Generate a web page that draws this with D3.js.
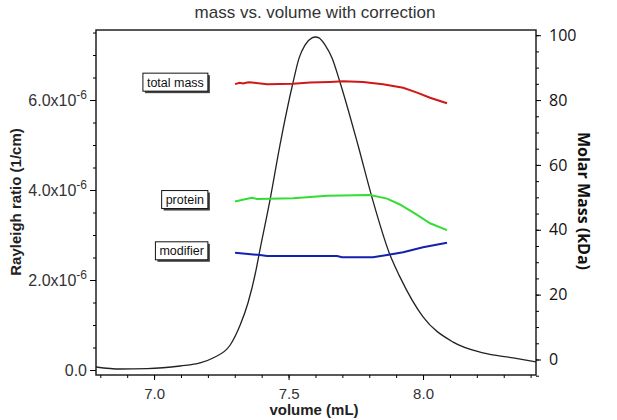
<!DOCTYPE html>
<html>
<head>
<meta charset="utf-8">
<script src="https://cdn.jsdelivr.net/npm/d3@7"></script>
<style>
  body { margin: 0; background: #fff; }
</style>
</head>
<body>
<div id="graph1"></div>
<script>
// rayleigh ratio trace (units of 1e-6 1/cm)
const lsVolume = [6.784, 6.874, 6.974, 7.097, 7.171, 7.219, 7.283, 7.320, 7.349, 7.379, 7.390, 7.431, 7.468, 7.517, 7.539, 7.561, 7.587, 7.600, 7.613, 7.636, 7.662, 7.691, 7.758, 7.810, 7.877, 7.914, 8.000, 8.112, 8.223, 8.335, 8.420]
const lsRatio = [0.067, 0.022, 0.03, 0.089, 0.156, 0.267, 0.556, 1.0, 1.49, 2.22, 2.56, 3.78, 5.0, 6.4, 6.93, 7.22, 7.38, 7.40, 7.38, 7.22, 6.93, 6.4, 5.0, 3.84, 2.56, 2.07, 1.18, 0.62, 0.38, 0.27, 0.18]

// molar mass traces (kDa)
const totalVolume = [7.301, 7.318, 7.331, 7.350, 7.364, 7.420, 7.517, 7.580, 7.654, 7.703, 7.777, 7.851, 7.926, 7.978, 8.026, 8.089]
const totalMass = [84.9, 85.3, 85.1, 85.5, 85.4, 84.9, 85.0, 85.4, 85.6, 85.8, 85.6, 84.9, 83.8, 82.3, 80.7, 79.0]

const proteinVolume = [7.301, 7.338, 7.364, 7.383, 7.517, 7.643, 7.803, 7.866, 7.914, 7.978, 8.026, 8.089]
const proteinMass = [48.7, 49.4, 49.9, 49.5, 49.7, 50.5, 50.7, 49.6, 47.8, 44.6, 42.0, 39.9]

const modifierVolume = [7.301, 7.394, 7.420, 7.680, 7.699, 7.814, 7.866, 7.926, 8.000, 8.089]
const modifierMass = [32.9, 32.2, 31.9, 31.9, 31.5, 31.5, 32.2, 33.1, 34.6, 36.0]

const seriesNames = ['total mass', 'protein', 'modifier']
const seriesColors = ['#d01818', '#33dd33', '#1420b0']

// ticks
const xMajorTicks = [7.0, 7.5, 8.0]
const leftMajorTicks = [0, 2, 4, 6]
const rightMajorTicks = [0, 20, 40, 60, 80, 100]

const drawChart = () => {
  const width = 617
  const height = 420
  const plot = { left: 96, top: 30, right: 536, bottom: 375 }

  const svg = d3
    .select('#graph1')
    .append('svg')
    .attr('width', width)
    .attr('height', height)

  const xScale = d3.scaleLinear().domain([6.784, 8.42]).range([plot.left, plot.right])
  const yLeft = d3.scaleLinear().domain([-0.111, 7.556]).range([plot.bottom, plot.top])
  const yRight = d3.scaleLinear().domain([-4.78, 101.6]).range([plot.bottom, plot.top])

  const sans = "'Liberation Sans', Arial, sans-serif"
  const tickColor = '#333'

  // frame
  svg
    .append('rect')
    .attr('x', plot.left)
    .attr('y', plot.top)
    .attr('width', plot.right - plot.left)
    .attr('height', plot.bottom - plot.top)
    .attr('fill', 'none')
    .attr('stroke', '#222')
    .attr('stroke-width', 1.5)

  // bottom axis
  const xMinor = d3.range(68, 85).map((d) => d / 10)
  svg
    .append('g')
    .attr('transform', `translate(0, ${plot.bottom})`)
    .call(d3.axisBottom(xScale).tickValues(xMinor).tickSize(3).tickFormat(''))
    .call((g) => g.select('.domain').remove())
  const xAxisGroup = svg
    .append('g')
    .attr('transform', `translate(0, ${plot.bottom})`)
    .call(d3.axisBottom(xScale).tickValues(xMajorTicks).tickSize(5).tickPadding(8).tickFormat(d3.format('.1f')))
  xAxisGroup.select('.domain').remove()
  xAxisGroup.selectAll('text').attr('font-family', sans).attr('font-size', 15).attr('fill', tickColor)

  // left axis
  const leftMinor = d3.range(0, 16).map((d) => d / 2)
  svg
    .append('g')
    .attr('transform', `translate(${plot.left}, 0)`)
    .call(d3.axisLeft(yLeft).tickValues(leftMinor).tickSize(3).tickFormat(''))
    .call((g) => g.select('.domain').remove())
  const leftAxisGroup = svg
    .append('g')
    .attr('transform', `translate(${plot.left}, 0)`)
    .call(d3.axisLeft(yLeft).tickValues(leftMajorTicks).tickSize(6).tickPadding(3).tickFormat(''))
  leftAxisGroup.select('.domain').remove()
  leftAxisGroup
    .selectAll('.tick text')
    .attr('font-family', sans)
    .attr('font-size', 16)
    .attr('fill', tickColor)
    .each(function (d) {
      const label = d3.select(this)
      if (d === 0) {
        label.text('0.0')
        return
      }
      label.append('tspan').text(`${d.toFixed(1)}x10`)
      label.append('tspan').attr('dy', -7).attr('font-size', 12).text('-6')
    })

  // right axis
  const rightMinor = d3.range(-1, 21).map((d) => d * 5)
  svg
    .append('g')
    .attr('transform', `translate(${plot.right}, 0)`)
    .call(d3.axisRight(yRight).tickValues(rightMinor).tickSize(3).tickFormat(''))
    .call((g) => g.select('.domain').remove())
  const rightAxisGroup = svg
    .append('g')
    .attr('transform', `translate(${plot.right}, 0)`)
    .call(d3.axisRight(yRight).tickValues(rightMajorTicks).tickSize(5).tickPadding(8))
  rightAxisGroup.select('.domain').remove()
  rightAxisGroup.selectAll('text').attr('font-family', "'Open Sans', sans-serif").attr('font-size', 16).attr('fill', '#111')

  // titles
  svg
    .append('text')
    .attr('x', 315)
    .attr('y', 18)
    .attr('text-anchor', 'middle')
    .attr('font-family', sans)
    .attr('font-size', 17)
    .attr('fill', '#333')
    .text('mass vs. volume with correction')

  svg
    .append('text')
    .attr('x', 314)
    .attr('y', 415)
    .attr('text-anchor', 'middle')
    .attr('font-family', sans)
    .attr('font-size', 15)
    .attr('font-weight', 'bold')
    .attr('fill', '#222')
    .text('volume (mL)')

  svg
    .append('text')
    .attr('transform', 'translate(21, 202) rotate(-90)')
    .attr('text-anchor', 'middle')
    .attr('font-family', sans)
    .attr('font-size', 15)
    .attr('font-weight', 'bold')
    .attr('fill', '#222')
    .text('Rayleigh ratio (1/cm)')

  svg
    .append('text')
    .attr('transform', 'translate(578, 201) rotate(90)')
    .attr('text-anchor', 'middle')
    .attr('font-family', "'Open Sans', sans-serif")
    .attr('font-size', 16)
    .attr('font-weight', 'bold')
    .attr('fill', '#111')
    .text('Molar Mass (kDa)')

  // ls trace on the left axis
  const lsData = lsVolume.map((v, i) => ({ x: v, y: lsRatio[i] }))
  const lsLine = d3
    .line()
    .x((d) => xScale(d.x))
    .y((d) => yLeft(d.y))
    .curve(d3.curveMonotoneX)
  svg
    .append('path')
    .datum(lsData)
    .attr('d', lsLine)
    .attr('fill', 'none')
    .attr('stroke', '#222')
    .attr('stroke-width', 1.3)

  // mass traces on the right axis
  const massLine = d3
    .line()
    .x((d) => xScale(d.x))
    .y((d) => yRight(d.y))
  const massSeries = [
    totalVolume.map((v, i) => ({ x: v, y: totalMass[i] })),
    proteinVolume.map((v, i) => ({ x: v, y: proteinMass[i] })),
    modifierVolume.map((v, i) => ({ x: v, y: modifierMass[i] }))
  ]
  massSeries.forEach((series, i) => {
    svg
      .append('path')
      .datum(series)
      .attr('d', massLine)
      .attr('fill', 'none')
      .attr('stroke', seriesColors[i])
      .attr('stroke-width', 2)
  })

  // boxed labels next to each trace start
  massSeries.forEach((series, i) => {
    const labelGroup = svg.append('g')
    const boxRight = xScale(7.2)
    const centerY = yRight(series[0].y) - 2
    const label = labelGroup
      .append('text')
      .attr('font-family', sans)
      .attr('font-size', 12.5)
      .attr('fill', '#111')
      .attr('text-anchor', 'end')
      .attr('x', boxRight - 4)
      .attr('y', centerY + 4.5)
      .text(seriesNames[i])
    const textWidth = label.node().getComputedTextLength()
    const boxWidth = textWidth + 8
    // shadow then box
    labelGroup
      .insert('rect', 'text')
      .attr('x', boxRight - boxWidth + 2)
      .attr('y', centerY - 9 + 2)
      .attr('width', boxWidth)
      .attr('height', 18)
      .attr('fill', '#444')
    labelGroup
      .insert('rect', 'text')
      .attr('x', boxRight - boxWidth)
      .attr('y', centerY - 9)
      .attr('width', boxWidth)
      .attr('height', 18)
      .attr('fill', '#fff')
      .attr('stroke', '#111')
      .attr('stroke-width', 1)
  })
}

drawChart()
</script>
</body>
</html>
